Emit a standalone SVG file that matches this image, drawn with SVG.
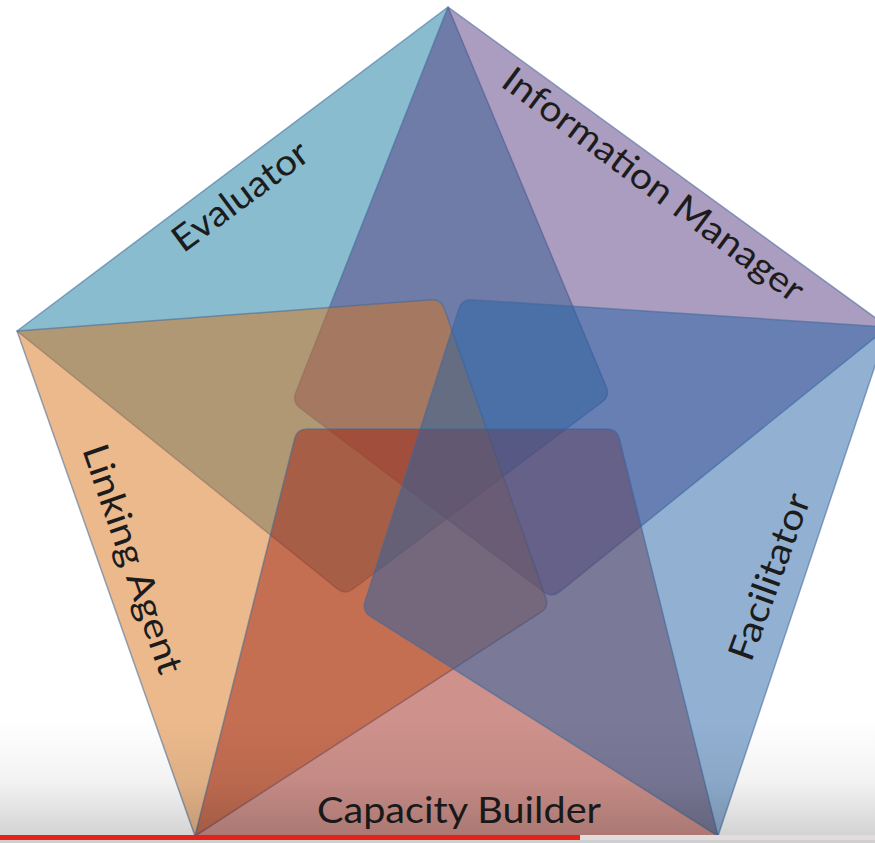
<svg xmlns="http://www.w3.org/2000/svg" width="875" height="843" viewBox="0 0 875 843">
<defs>
<style>
.shape{fill-opacity:0.5;stroke:#3f6a9a;stroke-opacity:0.55;stroke-width:1.5;stroke-linejoin:round}
.lbl{font-family:Lato,"Open Sans","Liberation Sans",sans-serif;font-size:36px;fill:#1c1c1c;text-anchor:middle}
</style>
<linearGradient id="shade" x1="0" y1="0" x2="0" y2="1">
<stop offset="0" stop-color="#000" stop-opacity="0"/>
<stop offset="0.5" stop-color="#000" stop-opacity="0.05"/>
<stop offset="1" stop-color="#000" stop-opacity="0.19"/>
</linearGradient>
</defs>
<rect width="875" height="843" fill="#ffffff"/>
<g id="evaluator">
<path class="shape" fill="#13799f" d="M17,331 L448,7 L606.2,386.8 Q610,396 602,402 L353,589 Q345,595 337.2,588.7 Z"/>
<text class="lbl" transform="translate(247.5,206) rotate(-36.5)" textLength="160" lengthAdjust="spacingAndGlyphs">Evaluator</text>
</g>
<g id="information-manager">
<path class="shape" fill="#573b81" d="M448,7 L888,327 L559.8,591.7 Q552,598 544,592 L300,408 Q292,402 295.7,392.7 Z"/>
<text class="lbl" transform="translate(646,194.5) rotate(36.7)" textLength="366" lengthAdjust="spacingAndGlyphs">Information Manager</text>
</g>
<g id="linking-agent">
<path class="shape" fill="#d77319" d="M195,836 L17,331 L431,299.8 Q441,299 444.3,308.4 L545.7,597.6 Q549,607 540.6,612.4 Z"/>
<text class="lbl" transform="translate(121,563) rotate(71)" textLength="240" lengthAdjust="spacingAndGlyphs">Linking Agent</text>
</g>
<g id="capacity-builder">
<path class="shape" fill="#9d2317" d="M718,836 L195,836 L294.6,438.7 Q297,429 307,429 L607,429 Q617,429 619.4,438.7 Z"/>
<text class="lbl" x="459" y="823" textLength="284" lengthAdjust="spacingAndGlyphs">Capacity Builder</text>
</g>
<g id="facilitator">
<path class="shape" fill="#2561a5" d="M888,327 L718,836 L370.5,616.3 Q362,611 365.1,601.5 L458.9,308.5 Q462,299 472,299.7 Z"/>
<text class="lbl" transform="translate(781,581) rotate(-70)" textLength="175" lengthAdjust="spacingAndGlyphs">Facilitator</text>
</g>
<g id="player-overlay">
<rect x="0" y="720" width="875" height="123" fill="url(#shade)"/>
<rect x="0" y="835" width="580" height="5" fill="#e62117"/>
<rect x="580" y="835" width="295" height="5" fill="#e4dcdc"/>
</g>
</svg>
